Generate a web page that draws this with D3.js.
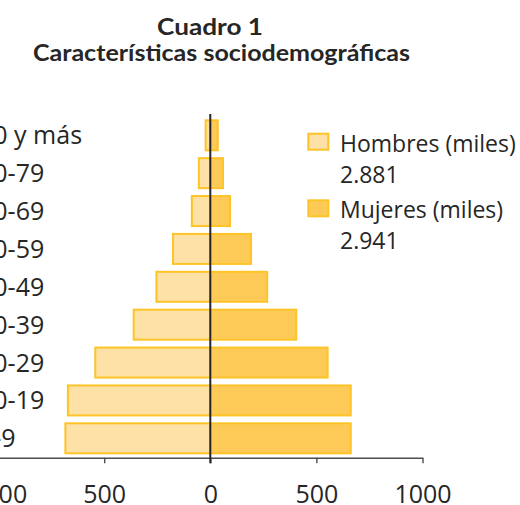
<!DOCTYPE html>
<html>
<head>
<meta charset="utf-8">
<script src="https://cdn.jsdelivr.net/npm/d3@7"></script>
<style>
  body { margin: 0; background: #fff; }
  svg { display: block; }
</style>
</head>
<body>
<script>
// grupos de edad, de arriba a abajo
var grupos = ["80 y más", "70-79", "60-69", "50-59", "40-49", "30-39", "20-29", "10-19", "0-9"];
var hombres = [22, 54, 87, 176, 254, 361, 542, 671, 683];
var mujeres = [35, 60, 93, 192, 268, 405, 553, 662, 662];
var series = ["Hombres (miles)", "Mujeres (miles)"];
var totales = ["2.881", "2.941"];
var ticks = [-1000, -500, 0, 500, 1000];
var titulo = ["Cuadro 1", "Características sociodemográficas"];

var width = 520, height = 505;
var colorH = "#fee1a6", colorM = "#fdca57", borde = "#fec427";

var svg = d3.select("body").append("svg")
  .attr("width", width)
  .attr("height", height);

var x = d3.scaleLinear()
  .domain([-1000, 1000])
  .range([-1.9, 422.5]);

var y = d3.scaleBand()
  .domain(grupos)
  .range([114, 459.6])
  .paddingInner(0.208)
  .paddingOuter(0.166);

// titulo (dos lineas, Calibri no esta: se ajusta el ancho)
svg.append("text")
  .attr("x", 157).attr("y", 34.5)
  .attr("textLength", 106)
  .attr("lengthAdjust", "spacingAndGlyphs")
  .attr("font-family", "Lato, sans-serif")
  .attr("font-weight", "bold")
  .attr("font-size", 23)
  .attr("fill", "#262626")
  .text(titulo[0]);

svg.append("text")
  .attr("x", 33).attr("y", 60.7)
  .attr("textLength", 377)
  .attr("lengthAdjust", "spacingAndGlyphs")
  .attr("font-family", "Lato, sans-serif")
  .attr("font-weight", "bold")
  .attr("font-size", 23)
  .attr("fill", "#262626")
  .text(titulo[1]);

// barras
svg.selectAll(".h")
  .data(grupos)
  .enter().append("rect")
  .attr("class", "h")
  .attr("x", (d, i) => x(-hombres[i]))
  .attr("y", d => y(d))
  .attr("width", (d, i) => x(0) - x(-hombres[i]))
  .attr("height", y.bandwidth())
  .attr("fill", colorH)
  .attr("stroke", borde)
  .attr("stroke-width", 2);

svg.selectAll(".m")
  .data(grupos)
  .enter().append("rect")
  .attr("class", "m")
  .attr("x", x(0))
  .attr("y", d => y(d))
  .attr("width", (d, i) => x(mujeres[i]) - x(0))
  .attr("height", y.bandwidth())
  .attr("fill", colorM)
  .attr("stroke", borde)
  .attr("stroke-width", 2);

// etiquetas de grupos
svg.selectAll(".lab")
  .data(grupos)
  .enter().append("text")
  .attr("class", "lab")
  .attr("x", -21)
  .attr("y", d => y(d) + y.bandwidth() / 2)
  .attr("dy", "0.36em")
  .attr("font-family", "'Open Sans', sans-serif")
  .attr("font-size", 25)
  .attr("fill", "#262626")
  .text(d => d);

// eje x
var axisY = 457.7;
var eje = svg.append("g")
  .attr("transform", "translate(0," + axisY + ")")
  .call(d3.axisBottom(x)
    .tickValues(ticks)
    .tickFormat(d => Math.abs(d))
    .tickSize(5.5)
    .tickSizeOuter(0)
    .tickPadding(22.4));

eje.select(".domain").attr("stroke", "#4d4d4d").attr("stroke-width", 1.4);
eje.selectAll(".tick line").attr("stroke", "#4d4d4d").attr("stroke-width", 1.4);
eje.selectAll(".tick text")
  .attr("font-family", "'Open Sans', sans-serif")
  .attr("font-size", 25)
  .attr("fill", "#262626");

// linea del cero
svg.append("line")
  .attr("x1", x(0)).attr("x2", x(0))
  .attr("y1", 114).attr("y2", axisY + 5.5)
  .attr("stroke", "#262626")
  .attr("stroke-width", 2);

// leyenda
var leyenda = svg.selectAll(".ley")
  .data(series)
  .enter().append("g")
  .attr("class", "ley")
  .attr("transform", (d, i) => "translate(308.3," + (133.7 + i * 66.6) + ")");

leyenda.append("rect")
  .attr("width", 20)
  .attr("height", 16)
  .attr("fill", (d, i) => i === 0 ? colorH : colorM)
  .attr("stroke", borde)
  .attr("stroke-width", 2);

leyenda.append("text")
  .attr("x", 31.7)
  .attr("y", 18)
  .attr("font-family", "'Open Sans', sans-serif")
  .attr("font-size", 23)
  .attr("fill", "#262626")
  .text(d => d);

leyenda.append("text")
  .attr("x", 31.7)
  .attr("y", 49)
  .attr("font-family", "'Open Sans', sans-serif")
  .attr("font-size", 23)
  .attr("fill", "#262626")
  .text((d, i) => totales[i]);
</script>
</body>
</html>
